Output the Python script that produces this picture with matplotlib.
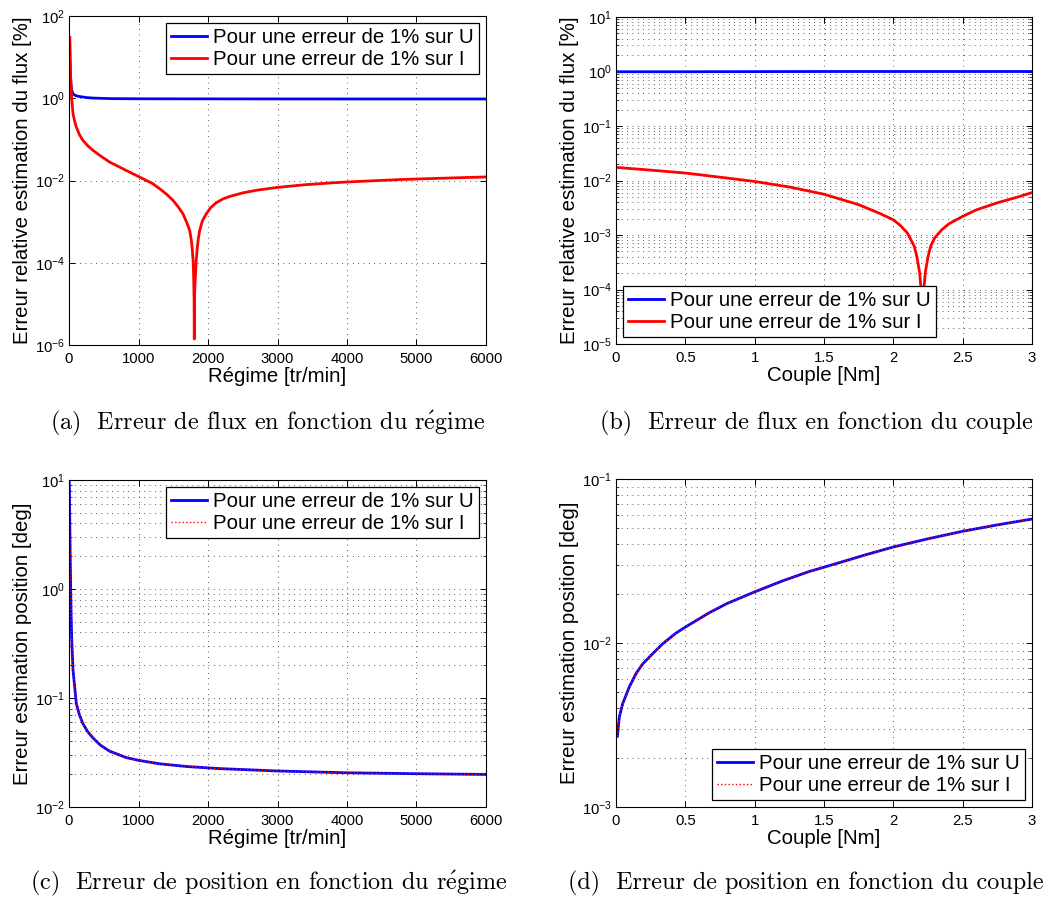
import matplotlib
matplotlib.use("Agg")
import matplotlib.pyplot as pyplot
from matplotlib.ticker import LogLocator, NullLocator

pyplot.rcParams["font.family"] = ["Liberation Sans", "DejaVu Sans"]
pyplot.rcParams["mathtext.fontset"] = "custom"
pyplot.rcParams["mathtext.rm"] = "Liberation Sans"
pyplot.rcParams["mathtext.it"] = "Liberation Sans:italic"
pyplot.rcParams["axes.linewidth"] = 0.8

# (a) flux error vs speed
REGIME_U = [10, 14, 20, 28, 38, 58, 100, 153, 250, 345, 600, 1000, 2000, 4000, 6000]
FLUX_REGIME_U = [30, 10, 4, 2.2, 1.6, 1.27, 1.15, 1.1, 1.04, 1.01, 0.98, 0.97, 0.965, 0.96, 0.96]
REGIME_I = [10, 15, 24, 38, 58, 80, 105, 150, 201, 270, 345, 450, 585, 700, 825, 1000, 1065,
            1200, 1305, 1400, 1496, 1570, 1640, 1700, 1736, 1760, 1775, 1786, 1794, 1800, 1803,
            1806, 1812, 1818, 1830, 1842, 1860, 1880, 1920, 1976, 2040, 2120, 2220, 2314, 2500,
            2700, 3000, 3400, 3800, 4000, 4400, 4800, 5400, 6000]
FLUX_REGIME_I = [30, 9, 3.2, 1.0, 0.42, 0.28, 0.2, 0.13, 0.094, 0.07, 0.054, 0.04, 0.028, 0.0224,
                 0.0175, 0.0125, 0.011, 0.0085, 0.0063, 0.0047, 0.0033, 0.0023, 0.00155, 0.0009,
                 0.00061, 0.00036, 0.0002, 0.00011, 4.5e-5, 1.2e-5, 1.4e-6, 1.5e-5, 2.8e-5,
                 4.5e-5, 1.1e-4, 2e-4, 3.8e-4, 6.1e-4, 1.05e-3, 1.55e-3, 2.2e-3, 2.9e-3, 3.6e-3,
                 0.0041, 0.0050, 0.0058, 0.0068, 0.0079, 0.0088, 0.0092, 0.0099, 0.0106, 0.0114,
                 0.0122]

# (b) flux error vs torque
COUPLE_U = [0, 0.5, 1, 1.5, 2, 2.5, 3]
FLUX_COUPLE_U = [0.99, 0.99, 0.995, 1.0, 1.0, 1.0, 1.0]
COUPLE_I = [0, 0.25, 0.5, 0.75, 1, 1.25, 1.5, 1.75, 1.9, 2, 2.05, 2.1, 2.15, 2.17, 2.19, 2.2,
            2.21, 2.22, 2.23, 2.25, 2.27, 2.3, 2.35, 2.4, 2.5, 2.6, 2.75, 2.9, 3]
FLUX_COUPLE_I = [0.0174, 0.0155, 0.0137, 0.0115, 0.0096, 0.0076, 0.0056, 0.0036, 0.0025, 0.0019,
                 0.0015, 0.0011, 0.00063, 0.0004, 0.0002, 0.0001, 0.00002, 0.0001, 0.0002,
                 0.0004, 0.00063, 0.0009, 0.00125, 0.0016, 0.0022, 0.0029, 0.0039, 0.005, 0.006]

# (c) position error vs speed (U and I curves coincide)
REGIME_POS = [2, 6, 10, 14, 19, 24, 29, 38, 48, 58, 82, 105, 150, 201, 270, 345, 450, 585, 825,
              1000, 1305, 1700, 2168, 3000, 4000, 5000, 6000]
POS_REGIME = [10, 8, 5, 3.0, 1.7, 1.04, 0.64, 0.36, 0.255, 0.18, 0.126, 0.089, 0.07, 0.058,
              0.049, 0.043, 0.037, 0.0325, 0.0284, 0.0268, 0.0249, 0.0235, 0.0225, 0.0214,
              0.0206, 0.0202, 0.0199]

# (d) position error vs torque
COUPLE_POS = [0.01, 0.024, 0.048, 0.096, 0.144, 0.192, 0.264, 0.337, 0.433, 0.5, 0.673, 0.8,
              1.0, 1.2, 1.394, 1.6, 1.8, 2.0, 2.25, 2.5, 2.75, 3.0]
POS_COUPLE = [0.0027, 0.00354, 0.00426, 0.0054, 0.0065, 0.00745, 0.0086, 0.0099, 0.0115, 0.0125,
              0.0153, 0.0174, 0.0205, 0.0239, 0.0273, 0.0307, 0.0345, 0.0385, 0.0432, 0.048,
              0.0525, 0.057]

LABEL_U = "Pour une erreur de 1% sur U"
LABEL_I = "Pour une erreur de 1% sur I"
XLABEL_REGIME = "Régime [tr/min]"
XLABEL_COUPLE = "Couple [Nm]"
YLABEL_FLUX = "Erreur relative estimation du flux [%]"
YLABEL_POS = "Erreur estimation position [deg]"
XTICKS_REGIME = [0, 1000, 2000, 3000, 4000, 5000, 6000]
XTICKS_COUPLE = [0, 0.5, 1, 1.5, 2, 2.5, 3]
CAPTIONS = [
    r"(a)  Erreur de flux en fonction du r$\mathrm{\acute{e}}$gime",
    "(b)  Erreur de flux en fonction du couple",
    r"(c)  Erreur de position en fonction du r$\mathrm{\acute{e}}$gime",
    "(d)  Erreur de position en fonction du couple",
]

W, H = 1043, 898
GRID_KW = dict(color="black", linewidth=0.55, linestyle=(0, (1, 6)))


def make_axes(fig, left, top, right, bottom):
    return fig.add_axes([left / W, 1 - bottom / H, (right - left) / W, (bottom - top) / H])


def style_axes(ax, xticks, xlim, exps, minor_grid):
    ax.set_yscale("log")
    ax.set_xlim(*xlim)
    ax.set_ylim(10.0 ** exps[0], 10.0 ** exps[-1])
    ax.set_xticks(xticks, ["%g" % t for t in xticks])
    ax.set_yticks([10.0 ** e for e in exps], [r"$10^{%d}$" % e for e in exps])
    if minor_grid:
        ax.yaxis.set_minor_locator(LogLocator(base=10, subs=range(2, 10), numticks=50))
        ax.grid(True, which="minor", axis="y", **GRID_KW)
    else:
        ax.yaxis.set_minor_locator(NullLocator())
    ax.yaxis.set_minor_formatter(pyplot.NullFormatter())
    ax.grid(True, which="major", **GRID_KW)
    ax.tick_params(which="both", direction="in", top=True, right=True, labelsize=10.7)
    ax.tick_params(which="major", length=4, width=0.7)
    ax.tick_params(which="minor", length=2, width=0.5)
    ax.tick_params(axis="x", pad=5)
    ax.tick_params(axis="y", pad=3)


def add_legend(ax, loc):
    leg = ax.legend(loc=loc, fontsize=14.7, fancybox=False, framealpha=1, edgecolor="black",
                    borderpad=0.25, labelspacing=0.15, handlelength=1.75, handletextpad=0.3,
                    borderaxespad=0.35)
    leg.get_frame().set_linewidth(0.9)
    return leg


fig = pyplot.figure(figsize=(W / 100, H / 100), dpi=100)

ax_a = make_axes(fig, 69, 16, 486, 345)
ax_a.plot(REGIME_U, FLUX_REGIME_U, color="blue", lw=2, label=LABEL_U)
ax_a.plot(REGIME_I, FLUX_REGIME_I, color="red", lw=2, label=LABEL_I)
style_axes(ax_a, XTICKS_REGIME, (0, 6000), [-6, -4, -2, 0, 2], False)
ax_a.set_xlabel(XLABEL_REGIME, fontsize=14.7, labelpad=1)
ax_a.set_ylabel(YLABEL_FLUX, fontsize=14.7, labelpad=2)
add_legend(ax_a, "upper right")

ax_b = make_axes(fig, 616, 17, 1032, 344)
ax_b.plot(COUPLE_U, FLUX_COUPLE_U, color="blue", lw=2, label=LABEL_U)
ax_b.plot(COUPLE_I, FLUX_COUPLE_I, color="red", lw=2, label=LABEL_I)
style_axes(ax_b, XTICKS_COUPLE, (0, 3), [-5, -4, -3, -2, -1, 0, 1], True)
ax_b.set_xlabel(XLABEL_COUPLE, fontsize=14.7, labelpad=1)
ax_b.set_ylabel(YLABEL_FLUX, fontsize=14.7, labelpad=2)
add_legend(ax_b, "lower left")

ax_c = make_axes(fig, 69, 480, 486, 807)
ax_c.plot(REGIME_POS, POS_REGIME, color="blue", lw=2, label=LABEL_U)
ax_c.plot(REGIME_POS, POS_REGIME, color="red", lw=1, linestyle=":", label=LABEL_I)
style_axes(ax_c, XTICKS_REGIME, (0, 6000), [-2, -1, 0, 1], True)
ax_c.set_xlabel(XLABEL_REGIME, fontsize=14.7, labelpad=1)
ax_c.set_ylabel(YLABEL_POS, fontsize=14.7, labelpad=2)
add_legend(ax_c, "upper right")

ax_d = make_axes(fig, 616, 479, 1032, 807)
ax_d.plot(COUPLE_POS, POS_COUPLE, color="blue", lw=2, label=LABEL_U)
ax_d.plot(COUPLE_POS, POS_COUPLE, color="red", lw=1, linestyle=":", label=LABEL_I)
style_axes(ax_d, XTICKS_COUPLE, (0, 3), [-3, -2, -1], True)
ax_d.set_xlabel(XLABEL_COUPLE, fontsize=14.7, labelpad=1)
ax_d.set_ylabel(YLABEL_POS, fontsize=14.7, labelpad=2)
add_legend(ax_d, "lower right")

# the last caption is nudged left so that it stays inside the figure
caption_pos = [(50, 423), (600, 423), (30, 883), (568, 883)]
for text, (cx, cy) in zip(CAPTIONS, caption_pos):
    fig.text(cx / W, 1 - cy / H, text, ha="left", va="center", fontsize=17.4,
             family="cmr10", math_fontfamily="cm")

fig.savefig("out.png", dpi=100)
